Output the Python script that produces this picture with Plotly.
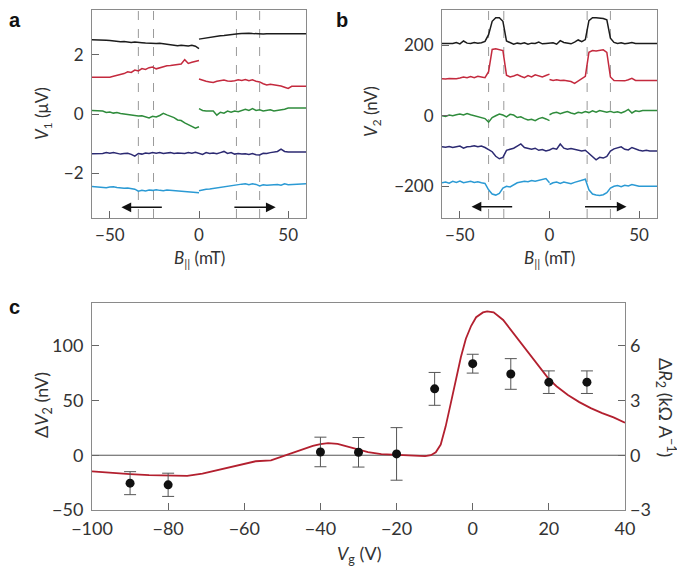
import plotly.graph_objects as go

# ---------------- data ----------------
B_left = list(range(-60, 1, 2))      # mT, -60..0
B_right = list(range(0, 61, 2))      # mT, 0..60
B_full = list(range(-60, 61, 2))     # mT, -60..60

# Panel a : V1 (uV)
a_black_L = [2.50, 2.50, 2.49, 2.50, 2.48, 2.47, 2.45, 2.44, 2.43, 2.44, 2.42, 2.41, 2.42, 2.40, 2.40, 2.39,
             2.38, 2.38, 2.37, 2.38, 2.36, 2.35, 2.33, 2.32, 2.30, 2.31, 2.30, 2.29, 2.31, 2.28, 2.20]
a_black_R = [2.52, 2.54, 2.57, 2.58, 2.60, 2.62, 2.63, 2.64, 2.66, 2.67, 2.68, 2.70, 2.71, 2.72, 2.72, 2.71,
             2.70, 2.70, 2.69, 2.70, 2.70, 2.69, 2.69, 2.70, 2.70, 2.69, 2.70, 2.70, 2.70, 2.70, 2.70]
a_red_L = [1.24, 1.24, 1.23, 1.24, 1.25, 1.24, 1.27, 1.30, 1.33, 1.36, 1.42, 1.40, 1.48, 1.45, 1.53, 1.50,
           1.56, 1.58, 1.52, 1.55, 1.60, 1.62, 1.63, 1.65, 1.67, 1.68, 1.83, 1.70, 1.74, 1.76, 1.80]
a_red_R = [1.18, 1.13, 1.10, 1.08, 1.06, 1.10, 1.12, 1.14, 1.11, 1.10, 1.12, 1.15, 1.13, 1.16, 1.12, 1.15,
           1.10, 1.08, 1.02, 0.98, 1.00, 0.98, 0.97, 0.94, 0.90, 0.86, 0.93, 0.92, 0.93, 0.93, 0.93]
a_green_L = [0.12, 0.12, 0.11, 0.10, 0.05, 0.07, 0.03, 0.05, 0.02, 0.00, -0.02, -0.03, -0.05, -0.07, -0.06,
             -0.10, -0.13, -0.08, -0.10, -0.05, 0.02, -0.03, -0.08, -0.12, -0.20, -0.22, -0.30, -0.36, -0.42,
             -0.48, -0.43]
a_green_R = [0.18, 0.12, 0.10, 0.09, 0.10, -0.04, 0.06, 0.03, 0.10, 0.06, 0.10, 0.08, 0.12, 0.16, 0.12, 0.18,
             0.12, 0.14, 0.10, 0.12, 0.14, 0.10, 0.12, 0.13, 0.16, 0.20, 0.20, 0.20, 0.20, 0.20, 0.20]
a_navy = [-1.34, -1.34, -1.34, -1.33, -1.30, -1.32, -1.30, -1.33, -1.35, -1.33, -1.32, -1.36, -1.42, -1.33,
          -1.35, -1.31, -1.33, -1.30, -1.32, -1.30, -1.33, -1.31, -1.30, -1.33, -1.31, -1.32, -1.33, -1.30,
          -1.32, -1.29, -1.33, -1.36, -1.30, -1.33, -1.31, -1.34, -1.30, -1.26, -1.33, -1.30, -1.35, -1.33,
          -1.35, -1.34, -1.36, -1.33, -1.37, -1.38, -1.32, -1.33, -1.30, -1.28, -1.26, -1.18, -1.26, -1.28,
          -1.28, -1.28, -1.28, -1.28, -1.28]
a_blue_L = [-2.44, -2.45, -2.44, -2.46, -2.48, -2.46, -2.45, -2.47, -2.49, -2.50, -2.49, -2.52, -2.53, -2.60,
            -2.57, -2.59, -2.56, -2.57, -2.55, -2.57, -2.58, -2.56, -2.57, -2.59, -2.58, -2.60, -2.60, -2.61,
            -2.62, -2.63, -2.65]
a_blue_R = [-2.58, -2.55, -2.53, -2.52, -2.50, -2.48, -2.47, -2.45, -2.43, -2.40, -2.38, -2.37, -2.36, -2.35,
            -2.38, -2.35, -2.37, -2.42, -2.38, -2.40, -2.39, -2.40, -2.37, -2.40, -2.35, -2.38, -2.37, -2.36,
            -2.35, -2.35, -2.35]

# Panel b : V2 (nV)
b_black = [205, 205, 206, 205, 208, 204, 212, 206, 205, 208,
           206, 207, 211, 230, 268, 278, 278, 268, 212, 207,
           203, 206, 204, 207, 203, 206, 205, 209, 204, 205,
           206,
           207, 203, 213, 208, 205, 204, 209, 215, 210, 216,
           270, 278, 278, 277, 276, 272, 220, 208, 205, 207,
           204, 206, 208, 205, 205, 204, 205, 205, 205, 205]
b_red_L = [105, 104, 106, 105, 105, 107, 110, 108, 111, 108,
           112, 110, 108, 125, 188, 190, 188, 185, 115, 110,
           113, 117, 112, 108, 114, 110, 116, 112, 110, 114, 118]
b_red_R = [103, 100, 102, 100, 101, 100, 97, 92, 98, 104,
           112, 180, 185, 184, 186, 187, 180, 110, 100, 100,
           101, 99, 102, 106, 100, 101, 100, 100, 100, 100, 100]
b_green_L = [0, -2, 2, 0, 3, 5, 2, 6, 3, 0,
             -2, -5, -8, -18, -5, 0, 5, 2, -3, 4,
             2, -5, -3, -8, -12, -10, -14, -8, -5, -9, -14]
b_green_R = [3, 8, 10, 6, 9, 12, 8, 5, 10, 8,
             12, 9, 14, 10, 15, 12, 10, 13, 9, 11,
             8, 12, 18, 8, 14, 12, 15, 15, 16, 15, 15]
b_navy = [-88, -89, -87, -90, -88, -86, -92, -88, -87, -85,
          -88, -86, -90, -95, -102, -115, -122, -118, -98, -95,
          -92, -86, -80, -90, -92, -95, -92, -98, -96, -100,
          -97,
          -92, -95, -80, -92, -95, -93, -95, -97, -100, -98,
          -108, -118, -125, -118, -120, -115, -100, -94, -92, -88,
          -95, -97, -90, -95, -98, -100, -98, -100, -100, -100]
b_blue_L = [-190, -188, -191, -186, -189, -185, -190, -188, -186, -189,
            -187, -190, -192, -210, -222, -225, -220, -205, -200, -202,
            -195, -190, -188, -186, -187, -184, -186, -183, -180, -178, -190]
b_blue_R = [-195, -190, -188, -192, -188, -190, -193, -189, -186, -184,
            -180, -210, -222, -225, -226, -224, -218, -205, -200, -198,
            -201, -197, -199, -195, -198, -200, -200, -199, -200, -200, -200]

dash_B = [-34, -25.5, 21, 34]

# Panel c
Vg_pts = [-90, -80, -40, -30, -20, -10, 0, 10, 20, 30]
dV_pts = [-25.5, -27, 3, 2.7, 1.2, 60.6, 83.6, 74.2, 66.7, 66.7]
dV_err = [10.5, 10.6, 13.5, 13.5, 24, 15, 8.6, 14, 10.3, 10.3]

Vg_curve = [-100, -95, -90, -85, -80, -75, -71, -66, -60, -57, -53, -50, -47, -45, -42, -40, -38, -35.5,
            -33, -30, -27.5, -24, -20, -16, -12.5, -11, -9.7, -8.4, -7.1, -5.75, -4.4, -3.1, -1.8, -0.4,
            0.9, 2.7, 3.8, 5.5, 8, 10, 12, 15, 18, 20, 22, 25, 28, 31, 34, 37, 40]
dV_curve = [-14.8, -16.2, -17.3, -18.2, -18.8, -18.8, -16.7, -12.7, -8.2, -5.5, -4.6, -1.0, 3.0, 5.5, 8.5,
            10.2, 11.1, 10.3, 8.0, 5.5, 2.8, 1.1, 0.5, 0.3, -0.8, 0.0, 2.7, 9.7, 26.4, 47.6, 68.7, 89.7,
            106.4, 118.2, 126.0, 130.4, 131.3, 130.5, 123.5, 114.5, 105.5, 91.0, 77.5, 69.5, 63.0, 55.0,
            48.5, 43.0, 38.5, 34.5, 29.7]

# ---------------- styling ----------------
OFF = 8                      # page body margin of the html page
W, H = 685 - OFF, 571 - OFF
FONT = "Lato"
C_BLACK = "#1c1c1c"
C_RED = "#c42a3e"
C_GREEN = "#2f8c3c"
C_NAVY = "#2c2a72"
C_BLUE = "#2b9ad4"
C_CURVE = "#b3202f"
FRAME = "#8a8a8a"


def px(x):
    return (x - OFF) / W


def py(y):
    return 1 - (y - OFF) / H


fig = go.Figure()


def line(x, y, color, xa, ya, width=1.5):
    fig.add_trace(go.Scatter(x=x, y=y, mode="lines", line=dict(color=color, width=width),
                             xaxis=xa, yaxis=ya, showlegend=False, hoverinfo="skip"))


# panel a
line(B_left, a_black_L, C_BLACK, "x", "y")
line(B_right, a_black_R, C_BLACK, "x", "y")
line(B_left, a_red_L, C_RED, "x", "y")
line(B_right, a_red_R, C_RED, "x", "y")
line(B_left, a_green_L, C_GREEN, "x", "y")
line(B_right, a_green_R, C_GREEN, "x", "y")
line(B_full, a_navy, C_NAVY, "x", "y")
line(B_left, a_blue_L, C_BLUE, "x", "y")
line(B_right, a_blue_R, C_BLUE, "x", "y")

# panel b
line(B_full, b_black, C_BLACK, "x2", "y2")
line(B_left, b_red_L, C_RED, "x2", "y2")
line(B_right, b_red_R, C_RED, "x2", "y2")
line(B_left, b_green_L, C_GREEN, "x2", "y2")
line(B_right, b_green_R, C_GREEN, "x2", "y2")
line(B_full, b_navy, C_NAVY, "x2", "y2")
line(B_left, b_blue_L, C_BLUE, "x2", "y2")
line(B_right, b_blue_R, C_BLUE, "x2", "y2")

# panel c
line(Vg_curve, dV_curve, C_CURVE, "x3", "y3", width=1.8)
fig.add_trace(go.Scatter(x=Vg_pts, y=dV_pts, mode="markers",
                         marker=dict(color="#111111", size=9),
                         error_y=dict(type="data", array=dV_err, color="#555555", thickness=1, width=6),
                         xaxis="x3", yaxis="y3", showlegend=False, hoverinfo="skip"))
# invisible trace to activate right axis
fig.add_trace(go.Scatter(x=[Vg_curve[0]], y=[0], mode="markers", marker=dict(opacity=0),
                         xaxis="x3", yaxis="y4", showlegend=False, hoverinfo="skip"))

tickfont_ab = dict(family=FONT, size=17, color="#333333")
tickfont_c = dict(family=FONT, size=18, color="#333333")
base = dict(showline=True, linecolor=FRAME, linewidth=1, mirror=True, ticks="inside", ticklen=7,
            tickcolor="#666666", tickwidth=1, showgrid=False, zeroline=False, automargin=False)

fig.update_layout(
    width=W, height=H, margin=dict(l=0, r=0, t=0, b=0, pad=0, autoexpand=False),
    paper_bgcolor="white", plot_bgcolor="white",
    xaxis=dict(base, domain=[px(92), px(306)], range=[-60, 60], tickvals=[-50, 0, 50],
               tickfont=tickfont_ab, anchor="y", ticklabelstandoff=2),
    yaxis=dict(base, domain=[py(218), py(10)], range=[-3.5, 3.5], tickvals=[-2, 0, 2],
               tickfont=tickfont_ab, anchor="x", ticklabelstandoff=4),
    xaxis2=dict(base, domain=[px(442), px(657)], range=[-60, 60], tickvals=[-50, 0, 50],
                tickfont=tickfont_ab, anchor="y2", ticklabelstandoff=2),
    yaxis2=dict(base, domain=[py(218), py(10)], range=[-290, 300], tickvals=[-200, 0, 200],
                tickfont=tickfont_ab, anchor="x2", ticklabelstandoff=4),
    xaxis3=dict(base, domain=[px(92), px(625)], range=[-100, 40],
                tickvals=[-100, -80, -60, -40, -20, 0, 20, 40],
                tickfont=tickfont_c, anchor="y3", ticklabelstandoff=2),
    yaxis3=dict(base, domain=[py(510), py(303)], range=[-50, 139], tickvals=[-50, 0, 50, 100],
                tickfont=tickfont_c, anchor="x3", ticklabelstandoff=4),
    yaxis4=dict(showline=False, ticks="inside", ticklen=7, tickcolor="#666666", showgrid=False,
                zeroline=False, overlaying="y3", side="right", anchor="x3", automargin=False,
                range=[-3.0, 139 * 0.06], tickvals=[-3, 0, 3, 6],
                tickfont=tickfont_c, ticklabelstandoff=4),
)

shapes = []
for xv in dash_B:
    for xr, yr in (("x", "y domain"), ("x2", "y2 domain")):
        shapes.append(dict(type="line", xref=xr, yref=yr, x0=xv, x1=xv, y0=0, y1=1,
                           line=dict(color="#9a9a9a", width=1, dash="dash"), layer="below"))
shapes.append(dict(type="line", xref="x3 domain", yref="y3", x0=0, x1=1, y0=0, y1=0,
                   line=dict(color="#555555", width=1), layer="below"))
fig.update_layout(shapes=shapes)

ann = []
# arrows
for xr, yr, yv in (("x", "y", -3.14), ("x2", "y2", -258)):
    ann.append(dict(x=-43.5, y=yv, ax=-20, ay=yv, xref=xr, yref=yr, axref=xr, ayref=yr, text="",
                    showarrow=True, arrowhead=2, arrowsize=1.3, arrowwidth=1.5, arrowcolor="#111111"))
    ann.append(dict(x=43, y=yv, ax=19, ay=yv, xref=xr, yref=yr, axref=xr, ayref=yr, text="",
                    showarrow=True, arrowhead=2, arrowsize=1.3, arrowwidth=1.5, arrowcolor="#111111"))

title_font = dict(family=FONT, size=17, color="#333333")
title_font_c = dict(family=FONT, size=18, color="#333333")


def txt(x, y, text, font, angle=0, xanchor="center", yanchor="middle"):
    ann.append(dict(x=px(x), y=py(y), xref="paper", yref="paper", text=text, showarrow=False,
                    font=font, textangle=angle, xanchor=xanchor, yanchor=yanchor,
                    borderpad=0))


txt(43, 114, "<i>V</i><sub>1</sub> (μV)", title_font, -90)
txt(199, 259, "<i>B</i><sub>||</sub> (mT)", title_font)
txt(372, 112, "<i>V</i><sub>2</sub> (nV)", title_font, -90)
txt(549, 259, "<i>B</i><sub>||</sub> (mT)", title_font)
txt(42, 405, "Δ<i>V</i><sub>2</sub> (nV)", title_font_c, -90)
txt(359, 554, "<i>V</i><sub>g</sub> (V)", title_font_c)
txt(666, 407, "Δ<i>R</i><sub>2</sub> (kΩ A<sup>−1</sup>)", title_font_c, 90)

letter_font = dict(family="Liberation Sans", size=20, color="#111111")
txt(8, 8, "<b>a</b>", letter_font, xanchor="left", yanchor="top")
txt(335, 8, "<b>b</b>", letter_font, xanchor="left", yanchor="top")
txt(8, 307, "<b>c</b>", letter_font, xanchor="left", yanchor="middle")

fig.update_layout(annotations=ann)
fig.write_html("out.html")
